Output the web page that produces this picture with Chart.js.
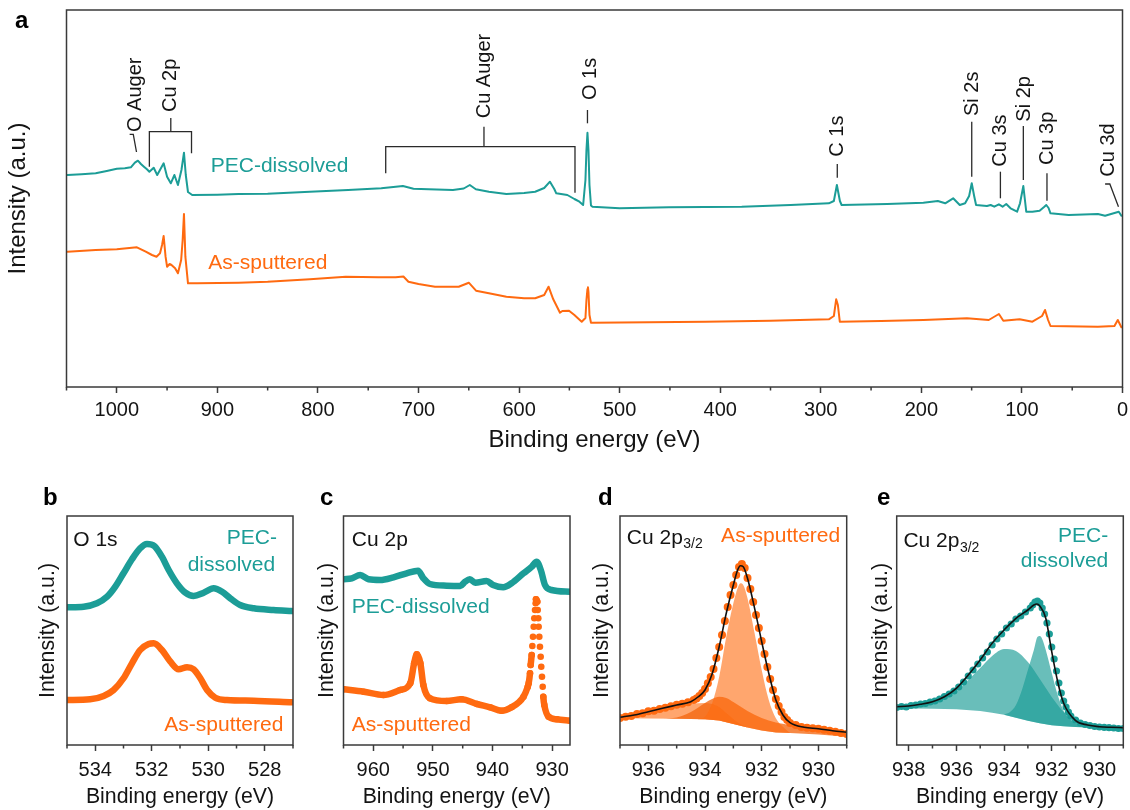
<!DOCTYPE html>
<html><head><meta charset="utf-8"><title>XPS spectra</title>
<script src="https://cdn.jsdelivr.net/npm/chart.js@4.4.1/dist/chart.umd.min.js"></script>
<style>
html,body{margin:0;padding:0;background:#fff}
body{position:relative;width:1130px;height:810px;overflow:hidden}
canvas{position:absolute}
</style></head><body>
<canvas id="pa" width="1130" height="462" style="left:0;top:0"></canvas>
<canvas id="pb" width="300" height="340" style="left:0;top:470px"></canvas>
<canvas id="pc" width="275" height="340" style="left:300px;top:470px"></canvas>
<canvas id="pd" width="277" height="340" style="left:575px;top:470px"></canvas>
<canvas id="pe" width="278" height="340" style="left:852px;top:470px"></canvas>
<script>
// ---------------- DATA (binding energy eV, intensity a.u.) ----------------
const surveyPEC = [[1049,212],[1035,212.7],[1021,213.7],[1010,216],[1000,218.3],[992,218.7],[986,219.7],[982,224.3],[979,226.3],[976,223],[973,220.3],[970,217.7],[967.6,215.3],[963.3,219.3],[959.8,212],[953.4,223.7],[950,210.3],[946.3,203.7],[942.7,212],[939.2,202],[935.7,217],[933.2,234.3],[931.4,212],[929.2,195],[925,192],[900,192.3],[878.9,193],[850,193.3],[808,195.3],[770,197],[737,198.7],[725,200],[715.5,201],[705,198.3],[690,197.7],[665.8,197],[655,198.5],[649,202],[643,197.7],[630,195.3],[612.6,193],[595,194],[584,195.3],[575,199],[569.3,205.3],[565,198],[563,193.7],[552,192],[545,188],[540,185.3],[536.3,182],[534,207],[533,237],[532,254.3],[531,237],[530,202],[528.5,181.5],[527,180.3],[500,178.7],[451,179.7],[378.6,180.3],[330,182],[292,183.7],[287,186],[284,202],[281,186],[279.3,182],[234,183],[198,184.3],[183.6,186],[176.3,183.7],[168.4,188.7],[161.8,182],[156.5,183.7],[152.5,191],[149.9,203.7],[147.5,191],[145.6,182],[134.8,181],[131.1,182],[127.5,180.3],[122.9,182.7],[119.2,180.3],[115.6,183],[111.3,178.7],[104.8,175.3],[101.9,183.7],[98.6,201],[95.7,175.3],[89.6,175.3],[82.4,176.3],[78,180],[75.8,182],[73.5,179],[71.6,173.7],[53.5,172],[24.5,173],[17.3,171.3],[3.7,175.3],[1.1,171.3]];
const surveyAsSp = [[1049,135.3],[1021,137],[1000,137.7],[980,139.7],[971.2,135.3],[965,132],[960.5,130.3],[957,133.7],[955,142],[953.4,151],[951.5,130.3],[950,120.3],[947.5,123],[945.6,122],[942,118.7],[939.2,113.7],[936,127],[934.5,147],[933.2,173],[931.8,130.3],[929.2,103.7],[920,103.7],[878.9,104.3],[850,105.3],[808,107.7],[772.4,110.3],[740,109.7],[722.7,109.7],[715,110.5],[710,105.3],[700,103],[683.6,100.3],[660,100.3],[650,104.3],[642.8,96.3],[630,93.7],[612.6,90.3],[595,88.7],[584,88.7],[575,92],[570.7,100.3],[566,87.7],[559.3,74.3],[557,76],[550.3,76.3],[545,72],[537.7,65.3],[534,69],[533,87],[532,98],[531.5,99.7],[531,95],[530,72],[528.5,64.3],[526.8,64.3],[414.8,65.3],[350,66.3],[292,67.7],[287,71],[284.7,87.7],[283,82],[281.1,65.3],[240,66],[198,67],[154.7,68.7],[133,67],[122.9,73],[118.5,66.3],[102.3,67.7],[89.6,65.3],[80,71],[77,77],[74,67],[71.6,61],[24.5,60.3],[8,61],[4.7,67],[1.1,59.7]];
const surveyTicks = [0,100,200,300,400,500,600,700,800,900,1000];
const surveyMinor = [50,150,250,350,450,550,650,750,850,950,1050];
// peak labels: text, BE of label, intensity at bottom of label
const surveyLabels = [['O Auger',981.8,255],['Cu 2p',946.3,275],['Cu Auger',633.9,268.7],['O 1s',528.9,287],['C 1s',283,230.3],['Si 2s',149.2,271],['Cu 3s',121.4,220.3],['Si 2p',97.5,265.3],['Cu 3p',74.1,222],['Cu 3d',14.4,210.3]];
const surveyLeaders = [
  [[987.2,252.7],[983.6,252.7],[980.4,235]],
  [[946.3,269],[946.3,255.3]],
  [[967.6,220.3],[967.6,255.3],[925.7,255.3],[925.7,233.7]],
  [[634.9,260.3],[634.9,240.3]],
  [[732.6,213.7],[732.6,240.3],[544.4,240.3],[544.4,194.3]],
  [[532,277],[532,263.7]],
  [[283.6,223],[283.6,209.3]],
  [[149.9,265.3],[149.9,210.3]],
  [[121.4,215.3],[121.4,188.7]],
  [[98.6,261],[98.6,207]],
  [[75.1,213.7],[75.1,186.3]],
  [[17.3,203],[12.6,203],[4,180.3]]
];

const o1sPEC = [[535,137.7],[534.41,138.3],[533.94,141.7],[533.58,148.3],[533.29,158.3],[533.0,171.7],[532.7,185.7],[532.41,196.7],[532.17,201],[531.91,199],[531.64,188.3],[531.4,175],[531.11,161.7],[530.81,152.3],[530.52,149],[530.16,152.3],[529.81,156.7],[529.51,153.3],[529.22,146.7],[528.87,140],[528.39,136.7],[527.69,135],[527.04,134]];
const o1sAsSp = [[535,45],[534.18,45.7],[533.7,49],[533.35,55],[533.0,66.7],[532.7,81.7],[532.41,95],[532.11,101],[531.93,101.7],[531.64,95],[531.34,83.3],[531.05,75.7],[530.75,77.7],[530.52,75.7],[530.28,66.7],[530.04,55],[529.75,47.3],[529.34,45],[528.39,44.3],[527.04,42.7]];

const cu2pPEC = [[965,165.7],[963.6,166.7],[962.2,170],[960.8,165.7],[958.85,165],[956.6,167.7],[954.4,171.7],[952.5,174.3],[951.6,166.7],[950.5,161],[947.7,159.3],[945.4,159],[944.6,163.3],[943.8,165.7],[942.9,162.3],[941,164],[939.9,160],[938.2,157.7],[936.8,161.7],[934.8,171.7],[933.4,178.3],[932.6,183.3],[931.9,175],[931.2,160],[930.1,155],[927,153.3]];
const cu2pAsSp = [[965,55.7],[961.6,53.3],[958.3,50],[955.5,55],[953.8,61.7],[953.15,81.7],[952.7,90.7],[952.1,81.7],[951.6,60],[950.5,46.7],[947.7,44],[945.2,45.7],[942.6,41],[940.4,37.7],[938.5,34.3],[936.8,37.7],[934.8,48.3],[934.1,58],[933.93,61.7],[933.71,71.7],[933.6,80],[933.43,90],[933.32,99],[933.21,108.3],[933.09,118.3],[932.99,126.7],[932.87,135],[932.76,141.7],[932.71,145.7],[932.49,143.3],[932.42,135],[932.32,126.7],[932.26,118.3],[932.15,108.3],[932.04,98.3],[931.92,88.3],[931.82,78.3],[931.7,68.3],[931.58,58.3],[931.48,48.3],[931.31,40],[930.6,28.3],[929.2,25.7],[927,24.3]];

const dDots = [[937,27],[936.8,28.3],[936.6,29],[936.4,31],[936.2,31.7],[936,33.7],[935.8,34.3],[935.6,36],[935.4,37.3],[935.2,38.7],[935,40.3],[934.8,41.3],[934.6,42.7],[934.4,45],[934.3,46.5],[934.2,49],[934.1,52],[934,56],[933.9,61.7],[933.8,68],[933.7,76],[933.6,87],[933.5,98],[933.4,110],[933.3,124],[933.2,138],[933.1,150],[933,160],[932.9,170],[932.8,178],[932.7,181],[932.6,177],[932.5,167],[932.4,156],[932.3,143],[932.2,130],[932.1,117],[932,104],[931.9,91],[931.8,78],[931.7,66],[931.6,55],[931.5,46],[931.4,39],[931.3,33],[931.2,28],[931.1,25],[931,22],[930.8,20],[930.6,18],[930.4,17.3],[930.2,16.7],[930,16.3],[929.8,15.3],[929.6,14.3],[929.4,13.3],[929.2,12],[929,11]];
const dFit = [[937,27.7],[936.5,30],[936,33.3],[935.5,36.7],[935,40],[934.5,43.3],[934.25,48],[934,55],[933.75,71],[933.5,98.3],[933.25,131.7],[933,160],[932.85,175],[932.75,179.3],[932.65,178.3],[932.5,166.7],[932.25,136.7],[932,103.3],[931.75,71.7],[931.5,45],[931.25,30],[931,22.3],[930.5,17.7],[930,16.3],[929.5,14.3],[929,12.7]];
const dPeakMain = [[934.25,25.9],[934,28.3],[933.75,41.7],[933.5,68.3],[933.25,108.3],[933,141.7],[932.85,156.7],[932.75,161.7],[932.65,160],[932.5,146.7],[932.25,111.7],[932,75],[931.75,45],[931.5,26.7],[931.25,18.3],[931,12]];
const dPeakBroad = [[935.5,26.4],[935,27.5],[934.5,33],[934,42],[933.75,46],[933.5,48.3],[933.25,47],[933,43],[932.5,34],[932,27],[931.5,22.5],[931,20],[930.5,17],[930,15.5],[929.5,13.5],[929,12]];
const dPeakSat = [[937,27.7],[936.5,30],[936,33],[935.5,36],[935,39],[934.5,41],[934,42],[933.75,41],[933.5,38],[933.25,32],[933,26],[932.75,21],[932.5,17.5]];
const dBackground = [[937,26.7],[935,26.3],[934,25.7],[933.5,24.5],[933,21],[932.5,17.5],[932,14.5],[931.5,12.5],[931,12],[930,10.5],[929,8.3]];

const eDots = [[938.5,37.5],[938.3,38.5],[938.1,38],[937.9,39.5],[937.7,40],[937.5,41],[937.3,41.5],[937.1,43],[936.9,44],[936.7,46],[936.5,48.5],[936.3,51],[936.1,54],[935.9,58],[935.7,63],[935.5,69],[935.3,75],[935.1,81],[934.9,87],[934.7,93],[934.5,100],[934.3,106],[934.1,111],[933.9,117],[933.7,121],[933.5,126],[933.3,129],[933.1,133],[932.9,137],[932.8,140],[932.7,143],[932.6,144],[932.5,142],[932.4,137],[932.3,131],[932.2,122],[932.1,111],[932,98],[931.9,86],[931.8,74],[931.7,62],[931.6,52],[931.5,44],[931.4,38],[931.3,33],[931.2,29],[931,25],[930.8,22],[930.6,20.5],[930.4,19.5],[930.2,18.5],[930,18],[929.8,17.7],[929.6,17.3],[929.4,17],[929.2,16.5],[929,16.5]];
const eFit = [[938.5,38.3],[938,39],[937.5,40.7],[937,43.3],[936.5,48.3],[936,56.7],[935.5,70],[935,85],[934.5,101.7],[934,115],[933.5,126.7],[933,135],[932.75,140],[932.62,141],[932.5,139],[932.25,126.7],[932,93.3],[931.75,63.3],[931.5,41.7],[931,24.3],[930.5,20],[930,18.3],[929.5,17.7],[929,17.3]];
const ePeakMain = [[934,30.3],[933.75,33],[933.5,40],[933.25,55],[933,75],[932.75,95],[932.6,108],[932.5,109],[932.4,106],[932.25,95],[932,72],[931.75,50],[931.5,34],[931.25,26],[931,21.5],[930.5,19],[930,17.3]];
const ePeakBroad = [[938.5,37.5],[938,38],[937.5,39.5],[937,41.7],[936.5,46],[936,53],[935.5,65],[935,77],[934.5,89],[934,96],[933.5,94],[933,83],[932.75,75],[932.5,66],[932.25,57],[932,48],[931.75,40],[931.5,33],[931,25],[930.5,21],[930,18.5],[929,17]];
const eBackground = [[938.5,36.7],[937,36.3],[936,35.7],[935,34],[934.5,32.3],[934,30.3],[933.5,27.3],[933,24.3],[932.5,21.7],[932,19.7],[931.5,18.7],[931,18],[930,17.3],[929,16.7]];

// ---------------- STYLE / HELPERS ----------------
const FONT = '"Liberation Sans", Arial, Helvetica, sans-serif';
Chart.defaults.font.family = FONT;
const TXT = '#141414', FRAME = '#3a3a3a', TEAL = '#1c9d97', ORANGE = '#ff6a10';
const xy = a => a.map(p => ({x: p[0], y: p[1]}));
let pid = 0;

function extras(cfg) {
  return {id: 'extras' + (pid++), afterDatasetsDraw(chart) {
    const {ctx, chartArea: A, scales: {x, y}} = chart;
    ctx.save();
    ctx.strokeStyle = FRAME; ctx.lineWidth = 1.5;
    ctx.strokeRect(A.left, A.top, A.right - A.left, A.bottom - A.top);
    ctx.beginPath();
    for (const v of cfg.minor) { const p = x.getPixelForValue(v); ctx.moveTo(p, A.bottom); ctx.lineTo(p, A.bottom + 3.5); }
    ctx.stroke();
    if (cfg.leaders) {
      ctx.strokeStyle = '#2a2a2a'; ctx.lineWidth = 1.3;
      for (const L of cfg.leaders) {
        ctx.beginPath();
        L.forEach((p, i) => { const X = x.getPixelForValue(p[0]), Y = y.getPixelForValue(p[1]); i ? ctx.lineTo(X, Y) : ctx.moveTo(X, Y); });
        ctx.stroke();
      }
    }
    if (cfg.rot) {
      for (const r of cfg.rot) {
        ctx.save(); ctx.translate(x.getPixelForValue(r[1]), y.getPixelForValue(r[2])); ctx.rotate(-Math.PI / 2);
        ctx.font = '20px ' + FONT; ctx.textAlign = 'left'; ctx.textBaseline = 'middle'; ctx.fillStyle = TXT;
        ctx.fillText(r[0], 0, 0); ctx.restore();
      }
    }
    for (const t of (cfg.texts || [])) {
      ctx.font = (t.s || 21) + 'px ' + FONT; ctx.fillStyle = t.c || TXT; ctx.textBaseline = 'middle';
      const X = x.getPixelForValue(t.x), Y = y.getPixelForValue(t.y);
      if (t.sub) {
        ctx.textAlign = 'left'; ctx.fillText(t.t, X, Y);
        const w = ctx.measureText(t.t).width;
        ctx.font = '14px ' + FONT; ctx.fillText(t.sub, X + w + 0.5, Y + 6);
      } else { ctx.textAlign = t.a || 'left'; ctx.fillText(t.t, X, Y); }
    }
    if (cfg.letter) {
      ctx.font = 'bold 24px ' + FONT; ctx.fillStyle = '#000'; ctx.textAlign = 'left'; ctx.textBaseline = 'alphabetic';
      ctx.fillText(cfg.letter[0], cfg.letter[1], cfg.letter[2]);
    }
    ctx.restore();
  }};
}

function makeOptions(p) {
  return {
    responsive: false, animation: false, events: [],
    layout: {padding: {left: 0, top: p.padTop, right: p.padRight, bottom: 0}},
    plugins: {legend: {display: false}, tooltip: {enabled: false}},
    scales: {
      x: {type: 'linear', reverse: true, min: p.xmin, max: p.xmax,
        afterBuildTicks: s => { s.ticks = p.majors.map(v => ({value: v})); },
        afterFit: s => { s.height = p.xHeight; s.paddingLeft = 0; s.paddingRight = 0; },
        ticks: {callback: v => String(v), font: {size: p.tickSize}, color: TXT, padding: p.tickPad, maxRotation: 0, autoSkip: false},
        grid: {display: true, drawOnChartArea: false, drawTicks: true, tickLength: 6, tickWidth: 1.5, tickColor: FRAME},
        border: {display: false},
        title: {display: true, text: 'Binding energy (eV)', font: {size: p.titleSize}, color: TXT, padding: {top: 0, bottom: p.xTitlePad}}
      },
      y: {type: 'linear', min: 0, max: p.ymax,
        afterFit: s => { s.width = p.yWidth; s.paddingTop = 0; s.paddingBottom = 0; },
        ticks: {display: false}, grid: {display: false}, border: {display: false},
        title: {display: true, text: 'Intensity (a.u.)', font: {size: p.titleSize}, color: TXT, padding: {top: p.yTitlePad, bottom: 0}}
      }
    }
  };
}
const lineDS = (d, c, w, extra) => Object.assign({data: xy(d), showLine: true, borderColor: c, borderWidth: w, pointRadius: 0, borderJoinStyle: 'round', borderCapStyle: 'round'}, extra || {});
const dotDS = (d, c, r) => ({data: xy(d), showLine: false, pointRadius: r, pointBackgroundColor: c, pointBorderWidth: 0});
const fillDS = (d, col, target) => ({data: xy(d), showLine: true, borderColor: 'rgba(0,0,0,0)', borderWidth: 1, pointRadius: 0, fill: target, backgroundColor: col, cubicInterpolationMode: 'monotone'});
const bgDS = d => ({data: xy(d), showLine: true, borderColor: 'rgba(0,0,0,0)', borderWidth: 1, pointRadius: 0});
const bottom = {ymax: 229, xHeight: 65, padTop: 46, xTitlePad: 0, titleSize: 21.3, tickSize: 20, tickPad: 7};

// ---------------- PANEL a ----------------
new Chart(document.getElementById('pa'), {
  type: 'scatter',
  data: {datasets: [lineDS(surveyPEC, TEAL, 2), lineDS(surveyAsSp, ORANGE, 2)]},
  options: makeOptions({xmin: 0, xmax: 1050, majors: surveyTicks, ymax: 377, yWidth: 66.5, xHeight: 75, padTop: 10, padRight: 7.5, yTitlePad: 3.6, xTitlePad: 7.6, titleSize: 24, tickSize: 20, tickPad: 5}),
  plugins: [extras({minor: surveyMinor, leaders: surveyLeaders, rot: surveyLabels, letter: ['a', 15, 28],
    texts: [{t: 'PEC-dissolved', x: 906.6, y: 220.3, c: TEAL}, {t: 'As-sputtered', x: 909, y: 123.7, c: ORANGE}]})]
});

// ---------------- PANEL b ----------------
new Chart(document.getElementById('pb'), {
  type: 'scatter',
  data: {datasets: [lineDS(o1sPEC, TEAL, 6.5, {cubicInterpolationMode: 'monotone'}), lineDS(o1sAsSp, ORANGE, 6.5, {cubicInterpolationMode: 'monotone'})]},
  options: makeOptions(Object.assign({xmin: 527, xmax: 535, majors: [528, 530, 532, 534], yWidth: 67, padRight: 7, yTitlePad: 35.4}, bottom)),
  plugins: [extras({minor: [527, 529, 531, 533, 535], letter: ['b', 43, 35],
    texts: [{t: 'O 1s', x: 534.78, y: 205}, {t: 'PEC-', x: 527.57, y: 206.7, c: TEAL, a: 'right'}, {t: 'dissolved', x: 527.63, y: 180, c: TEAL, a: 'right'}, {t: 'As-sputtered', x: 527.34, y: 20, c: ORANGE, a: 'right'}]})]
});

// ---------------- PANEL c ----------------
const steepHide = (col) => ({segment: {borderColor: c => Math.abs((c.p1.parsed.y - c.p0.parsed.y) / (c.p1.parsed.x - c.p0.parsed.x)) > 60 ? 'rgba(0,0,0,0)' : col}});
new Chart(document.getElementById('pc'), {
  type: 'scatter',
  data: {datasets: [
    lineDS(cu2pPEC, TEAL, 6.5, {cubicInterpolationMode: 'monotone'}),
    lineDS(cu2pAsSp, ORANGE, 6.5, Object.assign({cubicInterpolationMode: 'monotone', pointRadius: 3.3, pointBackgroundColor: ORANGE, pointBorderWidth: 0}, steepHide(ORANGE)))
  ]},
  options: makeOptions(Object.assign({xmin: 927, xmax: 965, majors: [930, 940, 950, 960], yWidth: 43.5, padRight: 5, yTitlePad: 14.1}, bottom)),
  plugins: [extras({minor: [935, 945, 955, 965], letter: ['c', 20, 35],
    texts: [{t: 'Cu 2p', x: 963.6, y: 204.3}, {t: 'PEC-dissolved', x: 963.6, y: 137.7, c: TEAL}, {t: 'As-sputtered', x: 963.6, y: 20, c: ORANGE}]})]
});

// ---------------- PANEL d ----------------
new Chart(document.getElementById('pd'), {
  type: 'scatter',
  data: {datasets: [
    lineDS(dFit, '#111', 1.6, {cubicInterpolationMode: 'monotone'}),
    dotDS(dDots, ORANGE, 4),
    fillDS(dPeakMain, 'rgba(255,106,14,0.6)', 5),
    fillDS(dPeakBroad, 'rgba(243,104,18,0.78)', 5),
    fillDS(dPeakSat, 'rgba(255,106,14,0.6)', 5),
    bgDS(dBackground)
  ]},
  options: makeOptions(Object.assign({xmin: 929, xmax: 937, majors: [930, 932, 934, 936], yWidth: 45, padRight: 5.3, yTitlePad: 14.1}, bottom)),
  plugins: [extras({minor: [929, 931, 933, 935, 937], letter: ['d', 23, 35],
    texts: [{t: 'Cu 2p', sub: '3/2', x: 936.76, y: 206.7}, {t: 'As-sputtered', x: 929.23, y: 208.3, c: ORANGE, a: 'right'}]})]
});

// ---------------- PANEL e ----------------
new Chart(document.getElementById('pe'), {
  type: 'scatter',
  data: {datasets: [
    lineDS(eFit, '#111', 1.6, {cubicInterpolationMode: 'monotone'}),
    dotDS(eDots, TEAL, 3.6),
    fillDS(ePeakMain, 'rgba(28,157,151,0.66)', 4),
    fillDS(ePeakBroad, 'rgba(28,157,151,0.66)', 4),
    bgDS(eBackground)
  ]},
  options: makeOptions(Object.assign({xmin: 929, xmax: 938.5, majors: [930, 932, 934, 936, 938], yWidth: 44.7, padRight: 6.7, yTitlePad: 16.1}, bottom)),
  plugins: [extras({minor: [929, 931, 933, 935, 937], letter: ['e', 25, 35],
    texts: [{t: 'Cu 2p', sub: '3/2', x: 938.22, y: 203.3}, {t: 'PEC-', x: 929.63, y: 208.3, c: TEAL, a: 'right'}, {t: 'dissolved', x: 929.63, y: 183.3, c: TEAL, a: 'right'}]})]
});
</script></body></html>
